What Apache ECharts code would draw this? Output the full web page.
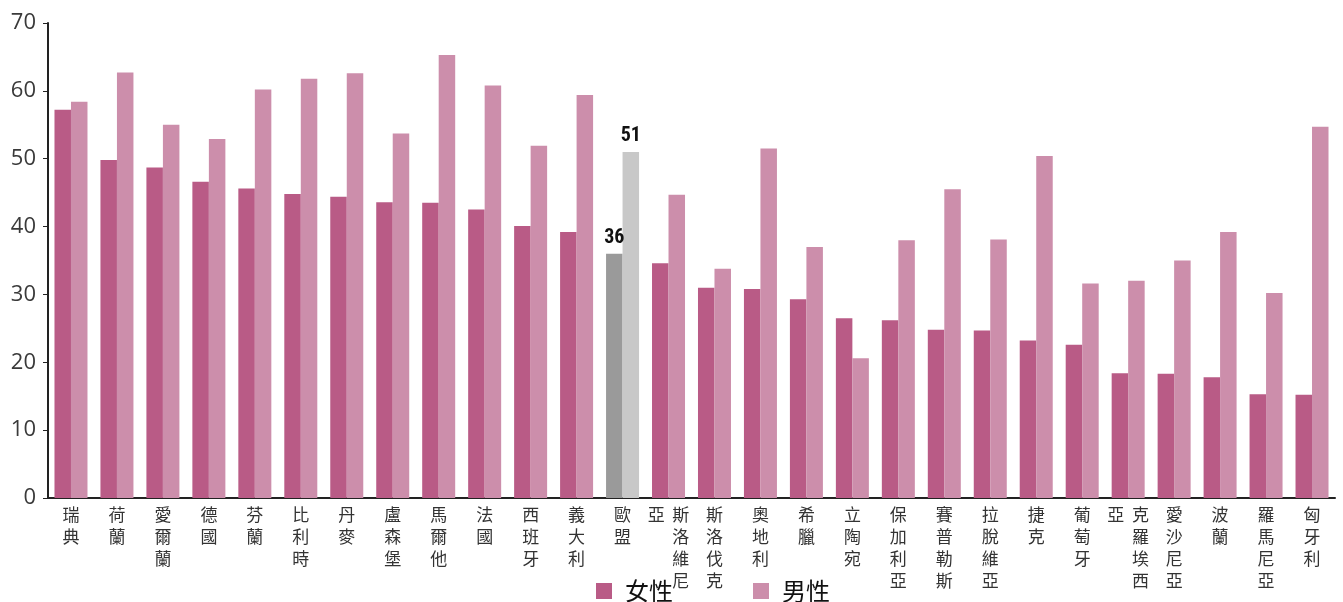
<!DOCTYPE html>
<html>
<head>
<meta charset="utf-8">
<script src="https://cdn.jsdelivr.net/npm/echarts@6/dist/echarts.min.js"></script>
<style>
html,body{margin:0;padding:0;background:#fff;}
#chart{width:1343px;height:602px;}
</style>
</head>
<body>
<div id="chart"></div>
<script>
const categories = ['瑞典','荷蘭','愛爾蘭','德國','芬蘭','比利時','丹麥','盧森堡','馬爾他','法國','西班牙','義大利','歐盟','斯洛維尼亞','斯洛伐克','奧地利','希臘','立陶宛','保加利亞','賽普勒斯','拉脫維亞','捷克','葡萄牙','克羅埃西亞','愛沙尼亞','波蘭','羅馬尼亞','匈牙利'];
const female = [57.2,49.8,48.7,46.6,45.6,44.8,44.4,43.6,43.5,42.5,40.1,39.2,36,34.6,31.0,30.8,29.3,26.5,26.2,24.8,24.7,23.2,22.6,18.4,18.3,17.8,15.3,15.2];
const male = [58.4,62.7,55.0,52.9,60.2,61.8,62.6,53.7,65.3,60.8,51.9,59.4,51,44.7,33.8,51.5,37.0,20.6,38.0,45.5,38.1,50.4,31.6,32.0,35.0,39.2,30.2,54.7];
const highlight = '歐盟';
const yTicks = [0,10,20,30,40,50,60,70];

const FEMALE = '#b95b86', MALE = '#cc8eab', EU_F = '#9a9a9a', EU_M = '#c8c8c8';

function mk(vals, eu) {
  return vals.map((v, i) => {
    if (categories[i] === highlight) {
      return {value: v, itemStyle: {color: eu},
        label: {show: true, position: 'top', distance: 6, formatter: '{c}',
          fontFamily: '"Liberation Sans Narrow","Roboto Condensed","DejaVu Sans Condensed",sans-serif',
          fontWeight: 'bold', fontSize: 20, color: '#111'}};
    }
    return {value: v};
  });
}

const chart = echarts.init(document.getElementById('chart'));
chart.setOption({
  animation: false,
  backgroundColor: '#fff',
  grid: {left: 48, right: 8, top: 23, bottom: 104, containLabel: false},
  legend: {
    left: 591, top: 574, itemWidth: 16, itemHeight: 16, itemGap: 80,
    icon: 'rect',
    textStyle: {fontSize: 24, color: '#111', fontFamily: '"Noto Sans CJK TC",sans-serif', padding: [0,0,0,8]},
    data: ['女性','男性']
  },
  xAxis: {
    type: 'category', data: categories,
    axisLine: {lineStyle: {color: '#222', width: 2}},
    axisTick: {show: false},
    axisLabel: {
      interval: 0, margin: 6,
      fontSize: 17, lineHeight: 22, color: '#333',
      fontFamily: '"Noto Sans CJK TC",sans-serif',
      formatter: function (name) {
        const ch = name.split('');
        if (ch.length === 5) {
          const last = ch[4];
          const lines = ['{v|' + last + '}  ' + ch[0]];
          for (let k = 1; k < 4; k++) lines.push('{h|' + last + '}  ' + ch[k]);
          return lines.join('\n');
        }
        return ch.join('\n');
      },
      rich: {
        v: {fontSize: 17, lineHeight: 22, color: '#333', fontFamily: '"Noto Sans CJK TC",sans-serif'},
        h: {fontSize: 17, lineHeight: 22, color: 'rgba(0,0,0,0)', fontFamily: '"Noto Sans CJK TC",sans-serif'}
      }
    }
  },
  yAxis: {
    type: 'value', min: 0, max: 70, interval: 10,
    axisLine: {show: true, lineStyle: {color: '#222', width: 2}},
    axisTick: {show: true, length: 5, lineStyle: {color: '#222'}},
    splitLine: {show: false},
    axisLabel: {fontSize: 22, color: '#3a3a3a', margin: 12,
      fontFamily: '"Open Sans",sans-serif',
      formatter: v => yTicks.includes(v) ? String(v) : ''}
  },
  series: [
    {name: '女性', type: 'bar', data: mk(female, EU_F), itemStyle: {color: FEMALE},
     barWidth: 16.5, barGap: '0%'},
    {name: '男性', type: 'bar', data: mk(male, EU_M), itemStyle: {color: MALE},
     barWidth: 16.5, barGap: '0%'}
  ]
});
</script>
</body>
</html>
